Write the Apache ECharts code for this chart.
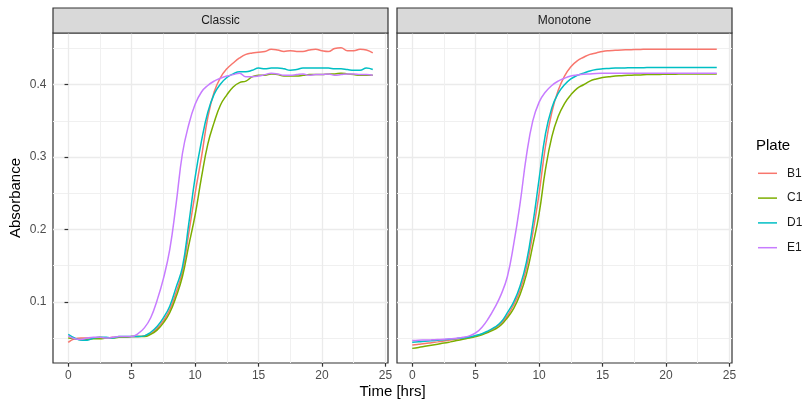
<!DOCTYPE html>
<html>
<head>
<meta charset="utf-8">
<script src="https://cdn.jsdelivr.net/npm/echarts@6/dist/echarts.min.js"></script>
<style>
  html, body { margin: 0; padding: 0; background: #fff; }
  #chart { width: 805px; height: 402px; }
</style>
</head>
<body>
<div id="chart"></div>
<script>
// time points (hours)
var times = [0,0.5,1,1.5,2,2.5,3,3.5,4,4.5,5,5.5,6,6.5,7,7.5,8,8.5,9,9.5,10,10.5,11,11.5,12,12.5,13,13.5,14,14.5,
             15,15.5,16,16.5,17,17.5,18,18.5,19,19.5,20,20.5,21,21.5,22,22.5,23,23.5,24];
var plates = ['B1', 'C1', 'D1', 'E1'];
var plateColors = ['#F8766D', '#7CAE00', '#00BFC4', '#C77CFF'];
var panels = ['Classic', 'Monotone'];
var xTicks = [0, 5, 10, 15, 20, 25];
var xMinor = [2.5, 7.5, 12.5, 17.5, 22.5];
var yTicks = [0.1, 0.2, 0.3, 0.4];
var yMinor = [0.05, 0.15, 0.25, 0.35, 0.45];

// Classic panel
var classicB1 = [0.044,0.049,0.050,0.050,0.050,0.051,0.050,0.051,0.051,0.051,
                 0.052,0.052,0.053,0.056,0.063,0.074,0.089,0.113,0.142,0.195,
                 0.250,0.300,0.355,0.390,0.410,0.422,0.430,0.437,0.442,0.444,
                 0.445,0.446,0.449,0.448,0.446,0.447,0.446,0.446,0.448,0.449,
                 0.447,0.446,0.450,0.451,0.447,0.447,0.449,0.448,0.444];
var classicC1 = [0.050,0.049,0.048,0.048,0.049,0.049,0.050,0.050,0.051,0.051,
                 0.052,0.052,0.052,0.055,0.061,0.071,0.085,0.107,0.135,0.178,
                 0.220,0.272,0.318,0.348,0.372,0.386,0.397,0.403,0.405,0.411,
                 0.413,0.413,0.415,0.414,0.412,0.412,0.412,0.413,0.414,0.414,
                 0.414,0.415,0.415,0.416,0.415,0.414,0.413,0.413,0.413];
var classicD1 = [0.055,0.050,0.047,0.047,0.050,0.051,0.051,0.050,0.052,0.052,
                 0.052,0.052,0.053,0.058,0.066,0.078,0.094,0.120,0.148,0.208,
                 0.272,0.322,0.362,0.387,0.401,0.410,0.415,0.418,0.418,0.420,
                 0.423,0.422,0.423,0.423,0.422,0.420,0.421,0.423,0.423,0.423,
                 0.423,0.423,0.422,0.422,0.421,0.420,0.420,0.423,0.421];
var classicE1 = [0.053,0.049,0.048,0.050,0.051,0.051,0.050,0.051,0.052,0.052,
                 0.052,0.056,0.064,0.078,0.102,0.132,0.172,0.235,0.305,0.345,
                 0.373,0.390,0.399,0.405,0.409,0.412,0.414,0.416,0.411,0.411,
                 0.412,0.414,0.416,0.415,0.413,0.413,0.414,0.415,0.413,0.414,
                 0.414,0.415,0.413,0.414,0.415,0.415,0.414,0.414,0.413];

// Monotone panel
var monoB1 = [0.0403,0.0413,0.0423,0.0435,0.0447,0.0460,0.0473,0.0487,0.0500,0.0513,
              0.0530,0.0555,0.0590,0.0640,0.0700,0.0810,0.0960,0.1160,0.1470,0.1950,
              0.2500,0.3150,0.3620,0.3920,0.4120,0.4250,0.4330,0.4380,0.4420,0.4440,
              0.4460,0.4470,0.4475,0.4480,0.4483,0.4486,0.4488,0.4490,0.4490,0.4490,
              0.4490,0.4490,0.4490,0.4490,0.4490,0.4490,0.4490,0.4490,0.4490];
var monoC1 = [0.0357,0.0370,0.0385,0.0400,0.0415,0.0430,0.0447,0.0465,0.0483,0.0500,
              0.0520,0.0545,0.0580,0.0620,0.0680,0.0780,0.0910,0.1100,0.1380,0.1780,
              0.2220,0.2830,0.3280,0.3560,0.3740,0.3860,0.3950,0.4000,0.4050,0.4080,
              0.4100,0.4110,0.4120,0.4125,0.4130,0.4133,0.4136,0.4140,0.4140,0.4143,
              0.4145,0.4146,0.4147,0.4148,0.4149,0.4150,0.4150,0.4150,0.4150];
var monoD1 = [0.0443,0.0448,0.0455,0.0462,0.0470,0.0477,0.0485,0.0493,0.0502,0.0515,
              0.0535,0.0560,0.0600,0.0650,0.0720,0.0850,0.1000,0.1220,0.1550,0.2070,
              0.2700,0.3320,0.3680,0.3880,0.4000,0.4080,0.4130,0.4160,0.4190,0.4210,
              0.4220,0.4225,0.4230,0.4232,0.4234,0.4235,0.4236,0.4237,0.4238,0.4238,
              0.4239,0.4239,0.4240,0.4240,0.4240,0.4240,0.4240,0.4240,0.4240];
var monoE1 = [0.0465,0.0470,0.0473,0.0476,0.0480,0.0484,0.0490,0.0498,0.0510,0.0530,
              0.0570,0.0650,0.0770,0.0920,0.1100,0.1350,0.1800,0.2360,0.3020,0.3500,
              0.3760,0.3900,0.3990,0.4050,0.4090,0.4120,0.4135,0.4145,0.4150,0.4155,
              0.4158,0.4160,0.4160,0.4160,0.4160,0.4160,0.4160,0.4160,0.4160,0.4160,
              0.4160,0.4160,0.4160,0.4160,0.4160,0.4160,0.4160,0.4160,0.4160];

var panelData = [
  [classicB1, classicC1, classicD1, classicE1],
  [monoB1, monoC1, monoD1, monoE1]
];

function pairs(ys) {
  return times.map(function (t, i) { return [t, ys[i]]; });
}

var FONT = '"Liberation Sans", Arial, sans-serif';
var panelLeft = [53, 397];
var panelWidth = 335;
var panelTop = 33;
var panelHeight = 330;
var xMin = -1.2, xMax = 25.2;
var yMin = 0.0155, yMax = 0.4715;

var grids = [], xAxes = [], yAxes = [], series = [], graphics = [];

panelLeft.forEach(function (left, p) {
  grids.push({
    left: left, top: panelTop, width: panelWidth, height: panelHeight,
    show: true, borderColor: '#333333', borderWidth: 1.2, backgroundColor: 'transparent'
  });
});

// major x axes
[0, 1].forEach(function (p) {
  xAxes.push({
    type: 'value', gridIndex: p, min: xMin, max: xMax, position: 'bottom',
    axisLine: { show: false },
    axisTick: { show: true, length: 3.7, customValues: xTicks, lineStyle: { color: '#333333', width: 1.2 } },
    axisLabel: { show: true, customValues: xTicks, margin: 6.5, color: '#4D4D4D', fontSize: 12, fontFamily: FONT },
    splitLine: { show: true, lineStyle: { color: '#EBEBEB', width: 1.3 } }
  });
});
// minor x axes (grid lines only)
[0, 1].forEach(function (p) {
  xAxes.push({
    type: 'value', gridIndex: p, min: xMin, max: xMax, position: 'top',
    axisLine: { show: false },
    axisTick: { show: false, customValues: xMinor },
    axisLabel: { show: false, customValues: xMinor },
    splitLine: { show: true, lineStyle: { color: '#F0F0F0', width: 1 } }
  });
});
// major y axes
[0, 1].forEach(function (p) {
  yAxes.push({
    type: 'value', gridIndex: p, min: yMin, max: yMax, position: 'left',
    axisLine: { show: false },
    axisTick: { show: p === 0, length: 3.7, customValues: yTicks, lineStyle: { color: '#333333', width: 1.2 } },
    axisLabel: {
      show: p === 0, customValues: yTicks, margin: 6.5, color: '#4D4D4D', fontSize: 12, fontFamily: FONT,
      formatter: function (v) { return v.toFixed(1); }
    },
    splitLine: { show: true, lineStyle: { color: '#EBEBEB', width: 1.3 } }
  });
});
// minor y axes
[0, 1].forEach(function (p) {
  yAxes.push({
    type: 'value', gridIndex: p, min: yMin, max: yMax, position: 'right',
    axisLine: { show: false },
    axisTick: { show: false, customValues: yMinor },
    axisLabel: { show: false, customValues: yMinor },
    splitLine: { show: true, lineStyle: { color: '#F0F0F0', width: 1 } }
  });
});

panelData.forEach(function (sets, p) {
  sets.forEach(function (ys, k) {
    series.push({
      name: plates[k],
      type: 'line',
      xAxisIndex: p,
      yAxisIndex: p,
      data: pairs(ys),
      smooth: 0.45,
      symbol: 'none',
      lineStyle: { color: plateColors[k], width: 1.5 },
      itemStyle: { color: plateColors[k] },
      z: 3
    });
  });
});

// facet strips
panels.forEach(function (name, p) {
  graphics.push({
    type: 'rect',
    shape: { x: panelLeft[p], y: 8, width: panelWidth, height: panelTop - 8 },
    style: { fill: '#D9D9D9', stroke: '#333333', lineWidth: 1.2 },
    z: 10
  });
  graphics.push({
    type: 'text',
    x: panelLeft[p] + panelWidth / 2, y: 8 + (panelTop - 8) / 2,
    style: { text: name, fill: '#1A1A1A', font: '12px ' + FONT, textAlign: 'center', textVerticalAlign: 'middle' },
    z: 11
  });
});

// axis titles and legend title
graphics.push({
  type: 'text', x: 392.5, y: 392,
  style: { text: 'Time [hrs]', fill: '#000000', font: '15px ' + FONT, textAlign: 'center', textVerticalAlign: 'middle' }
});
graphics.push({
  type: 'text', x: 16, y: panelTop + panelHeight / 2, rotation: Math.PI / 2,
  style: { text: 'Absorbance', fill: '#000000', font: '15px ' + FONT, textAlign: 'center', textVerticalAlign: 'middle' }
});
graphics.push({
  type: 'text', x: 756, y: 146,
  style: { text: 'Plate', fill: '#000000', font: '15px ' + FONT, textAlign: 'left', textVerticalAlign: 'middle' }
});

var chart = echarts.init(document.getElementById('chart'), null, { renderer: 'canvas' });
chart.setOption({
  animation: false,
  backgroundColor: '#ffffff',
  grid: grids,
  xAxis: xAxes,
  yAxis: yAxes,
  legend: {
    orient: 'vertical',
    left: 758, top: 166.3,
    padding: 0,
    icon: 'rect',
    itemWidth: 19, itemHeight: 1.5, itemGap: 10.8,
    data: plates,
    textStyle: { color: '#1A1A1A', fontSize: 12, lineHeight: 14, fontFamily: FONT, padding: [0, 0, 0, 5] }
  },
  series: series,
  graphic: graphics
});
</script>
</body>
</html>
